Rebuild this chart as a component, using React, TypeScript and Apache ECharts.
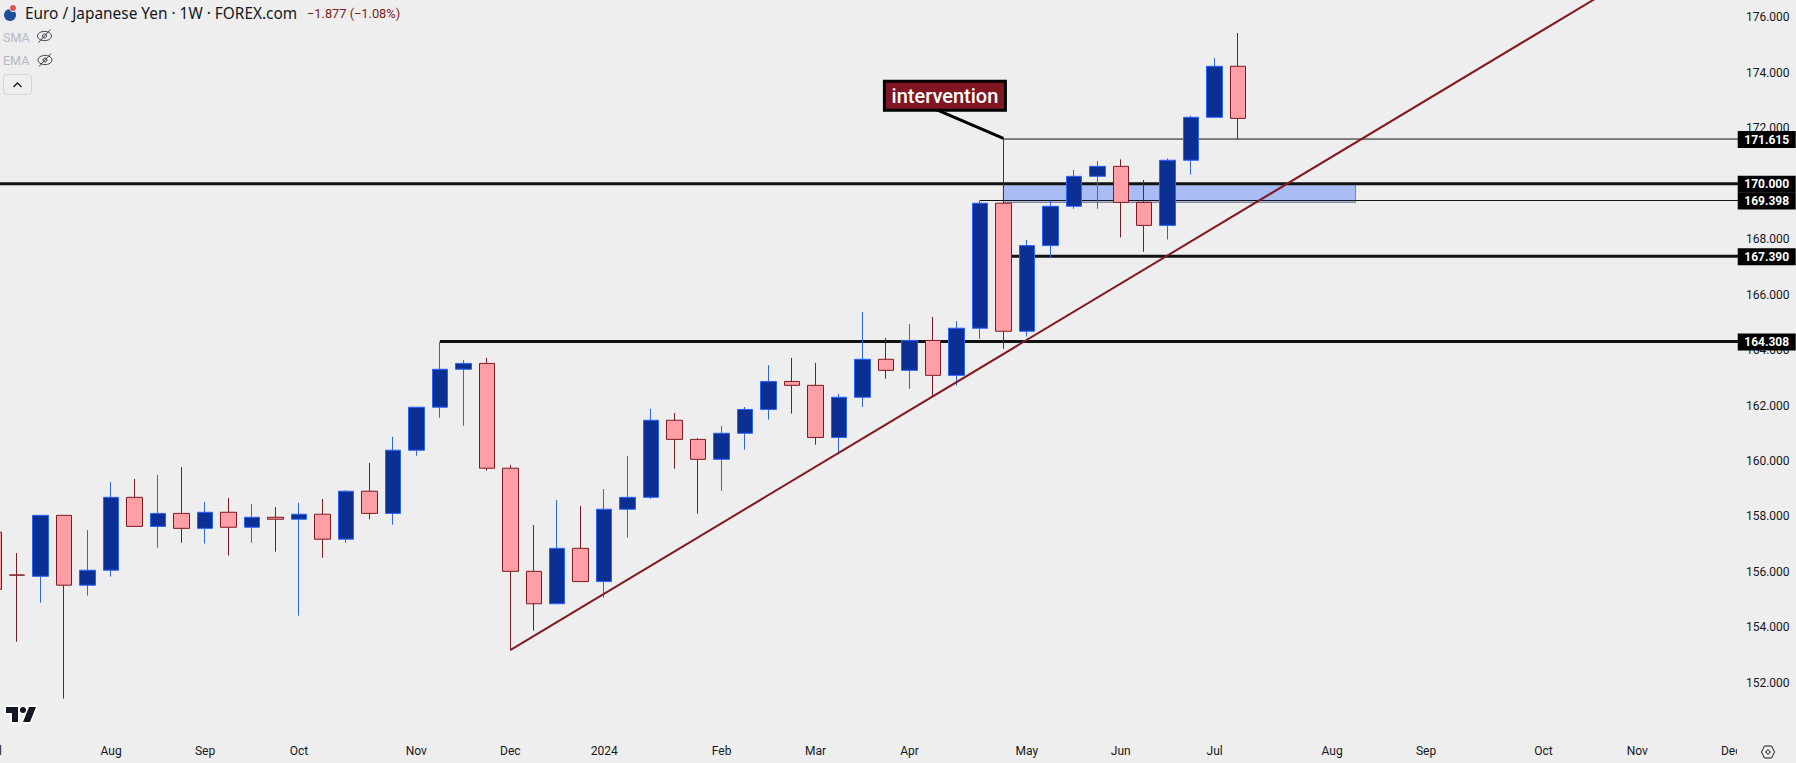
import React, { useEffect, useRef } from "react";
import * as echarts from "echarts";

// Weekly category labels: index 0 of the arrays is the week of 3 Jul 2023
const monthTicks: Record<number, string> = {
  0: "Jul", 5: "Aug", 9: "Sep", 13: "Oct", 18: "Nov", 22: "Dec", 26: "2024", 31: "Feb",
  35: "Mar", 39: "Apr", 44: "May", 48: "Jun", 52: "Jul", 57: "Aug", 61: "Sep", 66: "Oct",
  70: "Nov", 74: "Dec",
};
const weekCount = 76;
const categories: string[] = Array.from({ length: weekCount }, (_, i) => "w" + i);

const opens = [157.43, 155.89, 155.84, 158.04, 155.52, 156.06, 158.69, 157.64, 158.11, 157.57, 158.15, 157.61, 157.97, 157.90, 158.08, 157.18, 158.91, 158.11, 160.39, 161.94, 163.31, 163.52, 159.74, 156.02, 154.85, 156.85, 155.65, 158.26, 158.69, 161.47, 160.78, 160.06, 161.0, 161.86, 162.87, 162.73, 160.85, 162.30, 163.67, 163.27, 164.35, 163.09, 164.79, 169.30, 164.68, 167.77, 169.19, 170.27, 170.63, 169.33, 168.50, 170.85, 172.40, 174.24];
const closes = [155.37, 155.88, 158.04, 155.52, 156.06, 158.69, 157.64, 158.11, 157.57, 158.15, 157.61, 157.97, 157.90, 158.08, 157.18, 158.91, 158.11, 160.39, 161.94, 163.31, 163.52, 159.74, 156.02, 154.85, 156.85, 155.65, 158.26, 158.69, 161.47, 160.78, 160.06, 161.0, 161.86, 162.87, 162.73, 160.85, 162.30, 163.67, 163.27, 164.35, 163.09, 164.79, 169.30, 164.68, 167.77, 169.19, 170.27, 170.63, 169.33, 168.50, 170.85, 172.40, 174.24, 172.36];
const lows = [155.1, 153.48, 154.89, 151.43, 155.14, 155.83, 157.64, 156.87, 157.05, 157.02, 156.59, 157.05, 156.73, 154.42, 156.51, 157.05, 157.90, 157.70, 160.19, 161.56, 161.27, 159.65, 153.18, 153.88, 154.85, 155.65, 155.07, 157.24, 158.63, 159.72, 158.10, 158.93, 160.41, 161.49, 161.71, 160.59, 160.24, 161.95, 162.97, 162.60, 162.35, 162.72, 164.41, 164.05, 164.49, 167.34, 169.10, 169.10, 168.06, 167.55, 167.99, 170.33, 172.40, 171.61];
const highs = [157.9, 156.68, 158.04, 158.04, 157.51, 159.24, 159.35, 159.50, 159.78, 158.52, 158.67, 158.45, 158.34, 158.49, 158.63, 158.95, 159.93, 160.87, 161.94, 164.29, 163.64, 163.72, 159.86, 157.69, 158.59, 158.38, 158.99, 160.18, 161.88, 161.73, 160.83, 161.26, 161.95, 163.46, 163.72, 163.54, 162.42, 165.38, 164.44, 164.94, 165.2, 165.05, 169.40, 171.64, 167.97, 169.40, 170.50, 170.82, 170.88, 170.14, 170.92, 172.45, 174.54, 175.44];

const yTicksMin = 150;
const yTicksMax = 176.631;
const yTickStep = 2;

// level price, first week index, line width, label
const levelPrices = [171.615, 170, 169.398, 167.39, 164.308];
const levelStarts = [43, 0, 42, 43, 19];
const levelWidths = [1, 3, 1, 3, 3];
const levelLabels = ["171.615", "170.000", "169.398", "167.390", "164.308"];
const levelEnd = 75;

const zoneX = [43, 58];
const zoneY = [170, 169.33];

const trendX = [22, 69];
const trendY = [153.18, 177.08];

const calloutX = [40, 43];
const calloutY = [172.73, 171.64];
const calloutText = "intervention";

const titleText = "Euro / Japanese Yen · 1W · FOREX.com";
const changeText = "−1.877 (−1.08%)";
const maNames = ["SMA", "EMA"];

const BG = "#eeeeee";
const UP_FILL = "#0c2f94";
const UP_LINE = "#2962ff";
const DOWN_FILL = "#fd9fa4";
const DOWN_LINE = "#801922";
const FONT = "Roboto, sans-serif";

echarts.graphic.registerShape(
  "tvLogo",
  echarts.graphic.extendPath(
    "M14 6H2v6h6v9h6V6Zm12 15h-7l6-15h7l-6 15Zm-7-9a3 3 0 1 0 0-6 3 3 0 0 0 0 6Z",
    {}
  ) as any
);

function eyeOff(x: number, y: number) {
  const stroke = { stroke: "#3c3f4a", lineWidth: 1, fill: "none" };
  return [
    { type: "ellipse", shape: { cx: x, cy: y, rx: 7, ry: 4.6 }, style: stroke, z: 30 },
    { type: "circle", shape: { cx: x, cy: y, r: 2 }, style: stroke, z: 30 },
    { type: "line", shape: { x1: x - 6, y1: y + 6.5, x2: x + 6, y2: y - 6.5 }, style: stroke, z: 30 },
  ];
}

export default function App() {
  const ref = useRef<HTMLDivElement>(null);

  useEffect(() => {
    document.body.style.margin = "0";
    const chart = echarts.init(ref.current as HTMLDivElement, undefined, { renderer: "svg" });

    const levelSeries = levelPrices.map((p, n) => ({
      type: "line",
      z: 4,
      symbol: "circle",
      symbolSize: 0,
      showAllSymbol: true,
      silent: true,
      lineStyle: { color: "#121212", width: levelWidths[n] },
      itemStyle: { color: "#121212" },
      data: [
        { value: [levelStarts[n], p] },
        {
          value: [levelEnd, p],
          label: {
            show: true,
            position: "inside",
            offset: [12, 0.5],
            formatter: levelLabels[n],
            width: 58,
            height: 17,
            lineHeight: 17,
            align: "center",
            verticalAlign: "middle",
            backgroundColor: "#000",
            color: "#fff",
            fontFamily: FONT,
            fontSize: 12,
            fontWeight: 700,
          },
        },
      ],
    }));

    chart.setOption({
      animation: false,
      backgroundColor: BG,
      tooltip: { show: false },
      grid: { left: -18.02, width: 1784.48, top: 0, bottom: 24.8, containLabel: false, outerBoundsMode: "none" },
      xAxis: {
        type: "category",
        data: categories,
        z: 0,
        axisLine: { show: false },
        axisTick: { show: false },
        splitLine: { show: false },
        axisLabel: {
          interval: (i: number) => monthTicks[i] !== undefined,
          formatter: (_: string, i: number) => monthTicks[i] ?? "",
          color: "#131722",
          fontFamily: FONT,
          fontSize: 12,
          margin: 7,
        },
      },
      yAxis: {
        type: "value",
        position: "right",
        min: yTicksMin,
        max: yTicksMax,
        interval: yTickStep,
        z: 2,
        axisLine: { show: false },
        axisTick: { show: false },
        splitLine: { show: false },
        axisLabel: {
          margin: -20.5,
          showMinLabel: false,
          showMaxLabel: false,
          formatter: (v: number) => v.toFixed(3),
          color: "#131722",
          fontFamily: FONT,
          fontSize: 12,
        },
      },
      graphic: {
        elements: [
          { type: "rect", z: 1, shape: { x: 1737, y: 0, width: 59, height: 763 }, style: { fill: BG } },
          // legend
          { type: "circle", z: 30, shape: { cx: 10, cy: 15, r: 6 }, style: { fill: "#1d4f9c" } },
          { type: "circle", z: 30, shape: { cx: 13, cy: 8, r: 3.5 }, style: { fill: "#e05050", stroke: "#fff", lineWidth: 1 } },
          { type: "text", z: 30, x: 25, y: 13, style: { text: titleText, font: "15.4px 'Noto Sans', sans-serif", fill: "#131722", verticalAlign: "middle" } },
          { type: "text", z: 30, x: 307, y: 13, style: { text: changeText, font: "12.8px " + FONT, fill: DOWN_LINE, verticalAlign: "middle" } },
          { type: "text", z: 30, x: 3, y: 37, style: { text: maNames[0], font: "12.5px " + FONT, fill: "#b5b9c5", verticalAlign: "middle" } },
          { type: "text", z: 30, x: 3, y: 60, style: { text: maNames[1], font: "12.5px " + FONT, fill: "#b5b9c5", verticalAlign: "middle" } },
          ...eyeOff(44.5, 36),
          ...eyeOff(45, 60),
          { type: "rect", z: 30, shape: { x: 3.5, y: 74.5, width: 28, height: 20, r: 3 }, style: { fill: "none", stroke: "#d3d5dc", lineWidth: 1 } },
          { type: "polyline", z: 30, shape: { points: [[13.5, 87], [17.5, 83], [21.5, 87]] }, style: { fill: "none", stroke: "#131722", lineWidth: 1.3 } },
          // watermark logo
          { type: "tvLogo", z: 30, x: 4, y: 701, style: { fill: "#fff", stroke: "#fff", lineWidth: 3.5 } },
          { type: "tvLogo", z: 31, x: 4, y: 701, style: { fill: "#131722" } },
          // settings icon
          {
            type: "polygon",
            z: 30,
            shape: { points: [[1761.5, 752], [1764.5, 746], [1771.5, 746], [1774.5, 752], [1771.5, 758], [1764.5, 758]] },
            style: { fill: "none", stroke: "#131722", lineWidth: 1 },
          },
          { type: "circle", z: 30, shape: { cx: 1768, cy: 752, r: 2 }, style: { fill: "none", stroke: "#131722", lineWidth: 1 } },
        ],
      },
      series: [
        {
          type: "line",
          z: 3,
          symbol: "none",
          silent: true,
          data: [],
          markArea: {
            silent: true,
            itemStyle: { color: "rgba(41,98,255,0.35)", borderColor: "#808080", borderWidth: 1 },
            data: [[{ coord: [zoneX[0], zoneY[0]] }, { coord: [zoneX[1], zoneY[1]] }]],
          },
        },
        ...levelSeries,
        {
          type: "candlestick",
          z: 5,
          silent: true,
          barWidth: 16,
          itemStyle: {
            color: UP_FILL,
            color0: DOWN_FILL,
            borderColor: UP_LINE,
            borderColor0: DOWN_LINE,
            borderColorDoji: DOWN_LINE,
            borderWidth: 1,
          },
          data: opens.map((o, i) => [o, closes[i], lows[i], highs[i]]),
        },
        {
          type: "line",
          z: 6,
          symbol: "none",
          silent: true,
          lineStyle: { color: DOWN_LINE, width: 2 },
          data: trendX.map((x, i) => [x, trendY[i]]),
        },
        {
          type: "line",
          z: 7,
          symbol: "circle",
          symbolSize: 0,
          showAllSymbol: true,
          silent: true,
          lineStyle: { color: "#000", width: 3 },
          itemStyle: { color: "#000" },
          data: [
            {
              value: [calloutX[0], calloutY[0]],
              label: {
                show: true,
                position: "inside",
                offset: [12, -12.5],
                formatter: calloutText,
                width: 118,
                height: 26,
                lineHeight: 26,
                align: "center",
                verticalAlign: "middle",
                backgroundColor: "#7f1621",
                borderColor: "#000",
                borderWidth: 3,
                color: "#fff",
                fontFamily: FONT,
                fontSize: 20,
                fontWeight: 500,
              },
            },
            { value: [calloutX[1], calloutY[1]] },
          ],
        },
      ],
    });

    return () => chart.dispose();
  }, []);

  return <div ref={ref} style={{ position: "fixed", left: 0, top: 0, width: 1796, height: 763 }} />;
}
